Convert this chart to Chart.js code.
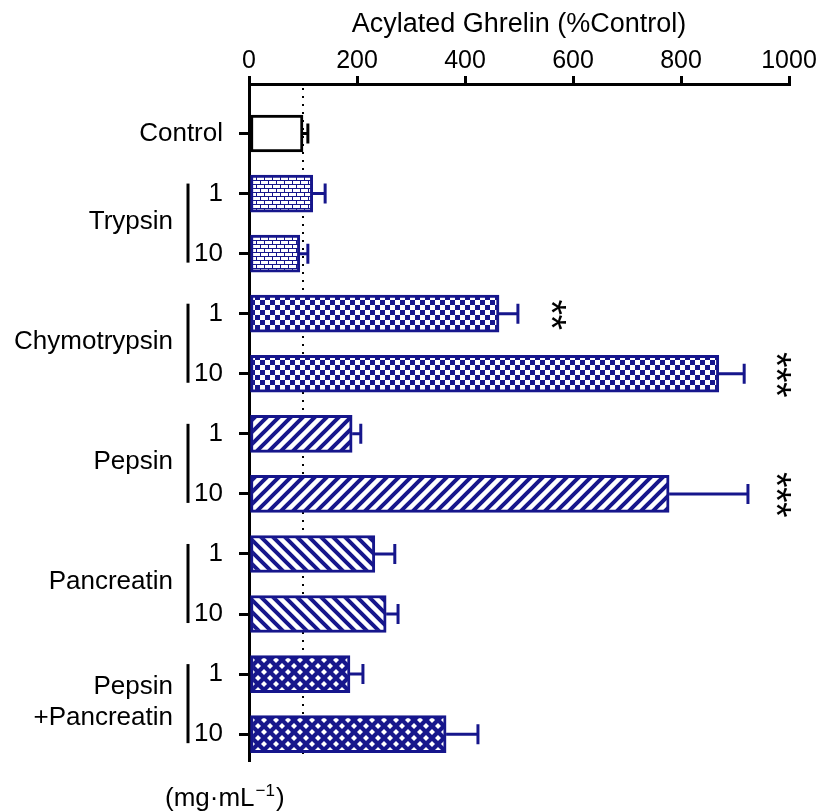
<!DOCTYPE html>
<html lang="en">
<head>
<meta charset="UTF-8">
<title>Acylated Ghrelin</title>
<script src="https://cdn.jsdelivr.net/npm/chart.js"></script>
<style>
  html, body { margin: 0; padding: 0; background: #fff; }
</style>
</head>
<body>
<canvas id="chart" width="824" height="811"></canvas>
<script>
  // data
  const doseLabels = ['Control', '1', '10', '1', '10', '1', '10', '1', '10', '1', '10'];
  const groupNames = [['Trypsin'], ['Chymotrypsin'], ['Pepsin'], ['Pancreatin'], ['Pepsin', '+Pancreatin']];
  const groupRows = [[1, 2], [3, 4], [5, 6], [7, 8], [9, 10]];
  const ghrelin = [100, 118, 94, 463, 870, 191, 778, 233, 254, 187, 365];
  const sem = [9, 23, 15, 35, 47, 16, 146, 37, 22, 24, 59];
  const stars = ['', '', '', '**', '***', '', '***', '', '', '', ''];
  const starX = [null, null, null, 574, 989, null, 989, null, null, null, null];
  const xTicks = [0, 200, 400, 600, 800, 1000];
  const fillKinds = ['none', 'brick', 'brick', 'check', 'check', 'fwd', 'fwd', 'back', 'back', 'cross', 'cross'];

  const navy = '#16168c';
  const FONT = '"Liberation Sans", Arial, sans-serif';

  // small tiles for the hatch fills
  function makePattern(kind) {
    const c = document.createElement('canvas');
    const g = c.getContext('2d');
    if (kind === 'none') return '#ffffff';
    if (kind === 'brick') {
      c.width = 8; c.height = 8;
      g.fillStyle = '#fff'; g.fillRect(0, 0, 8, 8);
      g.fillStyle = navy;
      g.fillRect(0, 0, 8, 1); g.fillRect(0, 4, 8, 1);
      g.fillRect(0, 0, 1, 4); g.fillRect(4, 4, 1, 4);
    } else if (kind === 'check') {
      c.width = 10; c.height = 10;
      g.fillStyle = '#fff'; g.fillRect(0, 0, 10, 10);
      g.fillStyle = navy;
      g.fillRect(0, 0, 5, 5); g.fillRect(5, 5, 5, 5);
    } else if (kind === 'fwd' || kind === 'back') {
      const s = 12;
      c.width = s; c.height = s;
      g.fillStyle = '#fff'; g.fillRect(0, 0, s, s);
      g.strokeStyle = navy; g.lineWidth = 4;
      g.beginPath();
      if (kind === 'fwd') {
        g.moveTo(0, s); g.lineTo(s, 0);
        g.moveTo(-s / 2, s / 2); g.lineTo(s / 2, -s / 2);
        g.moveTo(s / 2, 1.5 * s); g.lineTo(1.5 * s, s / 2);
      } else {
        g.moveTo(0, 0); g.lineTo(s, s);
        g.moveTo(-s / 2, s / 2); g.lineTo(s / 2, 1.5 * s);
        g.moveTo(s / 2, -s / 2); g.lineTo(1.5 * s, s / 2);
      }
      g.stroke();
    } else if (kind === 'cross') {
      const s = 12;
      c.width = s; c.height = s;
      g.fillStyle = navy; g.fillRect(0, 0, s, s);
      g.fillStyle = '#fff';
      const dia = (x, y, r) => { g.beginPath(); g.moveTo(x - r, y); g.lineTo(x, y - r); g.lineTo(x + r, y); g.lineTo(x, y + r); g.closePath(); g.fill(); };
      [[0, 0], [s, 0], [0, s], [s, s], [s / 2, s / 2]].forEach(p => dia(p[0], p[1], 3));
    }
    return document.getElementById('chart').getContext('2d').createPattern(c, 'repeat');
  }

  const fills = fillKinds.map(makePattern);
  const edges = fillKinds.map(k => k === 'none' ? '#000' : navy);

  const decorations = {
    id: 'decorations',
    beforeDatasetsDraw(chart) {
      const { ctx, chartArea, scales } = chart;
      const x = scales.x.getPixelForValue(100);
      ctx.save();
      ctx.strokeStyle = '#000';
      ctx.lineWidth = 2;
      ctx.setLineDash([2, 6]);
      ctx.beginPath();
      ctx.moveTo(x, chartArea.top + 4);
      ctx.lineTo(x, chartArea.bottom);
      ctx.stroke();
      ctx.restore();
    },
    afterDraw(chart) {
      const { ctx, scales } = chart;
      const xs = scales.x, ys = scales.y;
      ctx.save();
      // error bars
      ghrelin.forEach((v, i) => {
        const y = ys.getPixelForValue(i);
        const x0 = xs.getPixelForValue(v);
        const x1 = xs.getPixelForValue(v + sem[i]);
        ctx.strokeStyle = edges[i];
        ctx.lineWidth = 3;
        ctx.beginPath();
        ctx.moveTo(x0, y); ctx.lineTo(x1, y);
        ctx.moveTo(x1, y - 10); ctx.lineTo(x1, y + 10);
        ctx.stroke();
      });
      // significance stars, turned on their side
      ctx.fillStyle = '#000';
      ctx.font = '40px ' + FONT;
      ctx.textAlign = 'center';
      ctx.textBaseline = 'alphabetic';
      const m = ctx.measureText('*');
      const lift = (m.actualBoundingBoxAscent - m.actualBoundingBoxDescent) / 2;
      stars.forEach((s, i) => {
        if (!s) return;
        const cx = xs.getPixelForValue(starX[i]);
        const cy = ys.getPixelForValue(i) + 1;
        const n = s.length;
        for (let k = 0; k < n; k++) {
          ctx.save();
          ctx.translate(cx, cy + (k - (n - 1) / 2) * 15);
          ctx.rotate(Math.PI / 2);
          ctx.fillText('*', 0, lift);
          ctx.restore();
        }
      });
      // group names with brackets
      ctx.font = '26px ' + FONT;
      ctx.textAlign = 'right';
      ctx.textBaseline = 'middle';
      groupRows.forEach((r, gi) => {
        const ya = ys.getPixelForValue(r[0]);
        const yb = ys.getPixelForValue(r[1]);
        ctx.strokeStyle = '#000';
        ctx.lineWidth = 3;
        ctx.beginPath();
        ctx.moveTo(188, ya - 10); ctx.lineTo(188, yb + 9);
        ctx.stroke();
        const lines = groupNames[gi];
        const mid = (ya + yb) / 2 - 2;
        lines.forEach((t, li) => {
          ctx.fillText(t, 173, mid + (li - (lines.length - 1) / 2) * 31);
        });
      });
      // unit label
      ctx.textAlign = 'left';
      ctx.textBaseline = 'alphabetic';
      const base = 806;
      let ux = 165;
      ctx.font = '26px ' + FONT;
      ctx.fillText('(mg·mL', ux, base);
      ux += ctx.measureText('(mg·mL').width;
      ctx.font = '17px ' + FONT;
      ctx.fillText('−1', ux + 1, base - 10);
      ux += ctx.measureText('−1').width + 2;
      ctx.font = '26px ' + FONT;
      ctx.fillText(')', ux, base);
      ctx.restore();
    }
  };

  const ctx = document.getElementById('chart').getContext('2d');
  new Chart(ctx, {
    type: 'bar',
    data: {
      datasets: [{
        data: ghrelin.map((v, i) => ({ x: v, y: i })),
        backgroundColor: fills,
        borderColor: edges,
        borderWidth: 3,
        borderSkipped: false,
        barThickness: 37
      }]
    },
    options: {
      indexAxis: 'y',
      responsive: false,
      animation: false,
      layout: { padding: { left: 129, right: 35, top: 0, bottom: 51 } },
      plugins: { legend: { display: false }, tooltip: { enabled: false } },
      scales: {
        x: {
          type: 'linear',
          position: 'top',
          min: 0,
          max: 1000,
          afterBuildTicks: a => { a.ticks = xTicks.map(v => ({ value: v })); },
          afterFit: a => { a.height = 84; },
          grid: { drawOnChartArea: false, tickLength: 8, color: '#000', lineWidth: 3 },
          border: { color: '#000', width: 3 },
          ticks: { color: '#000', font: { family: FONT, size: 25 }, padding: 0, maxRotation: 0, callback: v => String(v) },
          title: {
            display: true,
            text: 'Acylated Ghrelin (%Control)',
            color: '#000',
            font: { family: FONT, size: 27 },
            padding: { top: 8, bottom: 0 }
          }
        },
        y: {
          type: 'linear',
          reverse: true,
          offset: false,
          min: -0.824,
          max: 10.43,
          afterBuildTicks: a => { a.ticks = doseLabels.map((_, i) => ({ value: i })); },
          afterFit: a => { a.width = 120; },
          grid: { drawOnChartArea: false, offset: false, tickLength: 10, color: '#000', lineWidth: 3 },
          border: { color: '#000', width: 3 },
          ticks: {
            color: '#000',
            font: { family: FONT, size: 26 },
            padding: 16,
            callback: v => doseLabels[v]
          }
        }
      }
    },
    plugins: [decorations]
  });
</script>
</body>
</html>
